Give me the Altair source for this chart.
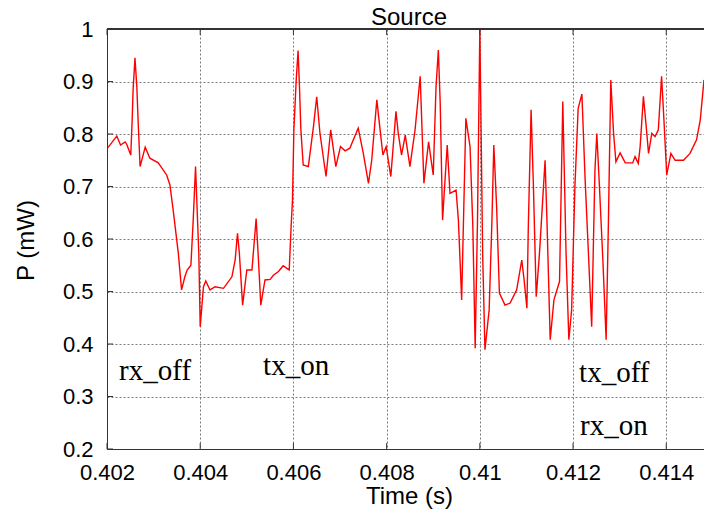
import altair as alt
import pandas as pd

# Time samples (s) and received power (mW) of the source trace
time_s = [
    0.40201, 0.40221, 0.40229, 0.40239, 0.40242, 0.40251, 0.40254, 0.40256, 0.40260, 0.40264,
    0.40267, 0.40271, 0.40282, 0.40292, 0.40310, 0.40328, 0.40335, 0.40342, 0.40353, 0.40360,
    0.40367, 0.40372, 0.40380, 0.40385, 0.40390, 0.40394, 0.40397, 0.40400, 0.40407, 0.40412,
    0.40421, 0.40432, 0.40450, 0.40468, 0.40475, 0.40480, 0.40484, 0.40491, 0.40500, 0.40511,
    0.40520, 0.40525, 0.40530, 0.40539, 0.40550, 0.40557, 0.40568, 0.40578, 0.40586, 0.40591,
    0.40595, 0.40598, 0.40601, 0.40606, 0.40610, 0.40613, 0.40616, 0.40621, 0.40632, 0.40643,
    0.40650, 0.40657, 0.40670, 0.40680, 0.40691, 0.40701, 0.40711, 0.40721, 0.40739, 0.40750,
    0.40761, 0.40768, 0.40779, 0.40786, 0.40792, 0.40799, 0.40809, 0.40820, 0.40825, 0.40832,
    0.40840, 0.40850, 0.40861, 0.40872, 0.40880, 0.40890, 0.40900, 0.40906, 0.40911, 0.40915,
    0.40920, 0.40930, 0.40936, 0.40949, 0.40954, 0.40961, 0.40970, 0.40979, 0.40985, 0.40990,
    0.40995, 0.41000, 0.41006, 0.41011, 0.41020, 0.41026, 0.41030, 0.41036, 0.41042, 0.41054,
    0.41065, 0.41079, 0.41090, 0.41095, 0.41101, 0.41104, 0.41110, 0.41115, 0.41121, 0.41128,
    0.41140, 0.41144, 0.41151, 0.41159, 0.41171, 0.41178, 0.41185, 0.41191, 0.41197, 0.41204,
    0.41211, 0.41219, 0.41226, 0.41233, 0.41240, 0.41247, 0.41251, 0.41256, 0.41264, 0.41271,
    0.41276, 0.41281, 0.41287, 0.41292, 0.41301, 0.41312, 0.41328, 0.41333, 0.41340, 0.41344,
    0.41351, 0.41357, 0.41362, 0.41369, 0.41376, 0.41383, 0.41390, 0.41395, 0.41401, 0.41410,
    0.41419, 0.41437, 0.41451, 0.41465, 0.41473, 0.41481,
]
power_mw = [
    0.773, 0.796, 0.779, 0.785, 0.781, 0.760, 0.827, 0.884, 0.945, 0.890,
    0.820, 0.738, 0.775, 0.754, 0.745, 0.722, 0.703, 0.655, 0.573, 0.503,
    0.528, 0.541, 0.550, 0.636, 0.738, 0.642, 0.573, 0.433, 0.509, 0.520,
    0.503, 0.509, 0.506, 0.528, 0.560, 0.611, 0.573, 0.474, 0.541, 0.541,
    0.639, 0.560, 0.474, 0.522, 0.523, 0.531, 0.538, 0.549, 0.544, 0.541,
    0.623, 0.674, 0.808, 0.903, 0.959, 0.890, 0.808, 0.741, 0.738, 0.814,
    0.871, 0.801, 0.719, 0.808, 0.738, 0.776, 0.768, 0.773, 0.811, 0.763,
    0.706, 0.750, 0.865, 0.808, 0.760, 0.776, 0.719, 0.843, 0.801, 0.760,
    0.798, 0.738, 0.808, 0.910, 0.706, 0.785, 0.722, 0.890, 0.960, 0.858,
    0.636, 0.779, 0.687, 0.693, 0.636, 0.484, 0.830, 0.776, 0.623, 0.392,
    0.636, 1.000, 0.573, 0.389, 0.465, 0.636, 0.779, 0.662, 0.497, 0.474,
    0.478, 0.503, 0.560, 0.522, 0.468, 0.623, 0.846, 0.700, 0.490, 0.573,
    0.750, 0.636, 0.408, 0.484, 0.519, 0.862, 0.573, 0.408, 0.465, 0.700,
    0.849, 0.876, 0.712, 0.573, 0.433, 0.731, 0.801, 0.712, 0.560, 0.408,
    0.636, 0.903, 0.801, 0.747, 0.764, 0.745, 0.745, 0.757, 0.744, 0.776,
    0.872, 0.814, 0.763, 0.801, 0.795, 0.808, 0.910, 0.827, 0.722, 0.763,
    0.750, 0.750, 0.763, 0.789, 0.827, 0.903,
]

# Event labels placed inside the plot
event_text = ["rx_off", "tx_on", "tx_off", "rx_on"]
event_time = [0.40226, 0.40535, 0.41213, 0.41215]
event_power = [0.331, 0.341, 0.328, 0.227]

x_ticks = [0.402, 0.404, 0.406, 0.408, 0.41, 0.412, 0.414]
y_ticks = [0.2, 0.3, 0.4, 0.5, 0.6, 0.7, 0.8, 0.9, 1.0]

chart_title = ["Source"]

W, H = 597, 420
FONT = "Liberation Sans"

trace = pd.DataFrame({"t": time_s, "p": power_mw})
events = pd.DataFrame({"label": event_text, "t": event_time, "p": event_power})
xt = pd.DataFrame({"t": x_ticks})
yt = pd.DataFrame({"p": y_ticks})
title_df = pd.DataFrame({"text": chart_title})

x_scale = alt.Scale(domain=[0.402, 0.41481], nice=False, zero=False)
y_scale = alt.Scale(domain=[0.2, 1.0], nice=False, zero=False)

common = dict(
    grid=True, ticks=False, labelFlush=False, labelOverlap=False,
    labelFont=FONT, labelFontSize=22, labelColor="#000",
    titleFont=FONT, titleFontSize=24, titleFontWeight="normal", titleColor="#000",
    titleBaseline="alphabetic", titleAnchor="middle",
    domainColor="#333", gridColor="#7a7a7a", gridDash=[2, 2], gridWidth=1,
)
x_axis = alt.Axis(values=x_ticks, format="~g", title="Time (s)", labelPadding=13,
                  titleX=302, titleY=54, **common)
y_axis = alt.Axis(values=y_ticks, format="~g", title="P (mW)", labelPadding=14,
                  titleX=-74, titleY=211, titleAngle=-90, **common)

line = alt.Chart(trace).mark_line(color="#ff0000", strokeWidth=1.4, clip=True).encode(
    x=alt.X("t:Q", scale=x_scale, axis=x_axis),
    y=alt.Y("p:Q", scale=y_scale, axis=y_axis),
)

labels = alt.Chart(events).mark_text(
    font="Liberation Serif", fontSize=29, align="left", baseline="alphabetic", color="#000"
).encode(
    x=alt.X("t:Q", scale=x_scale),
    y=alt.Y("p:Q", scale=y_scale),
    text="label:N",
)

# Chart heading above the frame
heading = alt.Chart(title_df).mark_text(
    font=FONT, fontSize=24, align="center", baseline="alphabetic", color="#000"
).encode(x=alt.value(302), y=alt.value(-4), text="text:N")

# Inward tick marks on the frame
xtick_bottom = alt.Chart(xt).mark_rule(color="#333").encode(
    x=alt.X("t:Q", scale=x_scale), y=alt.value(H), y2=alt.value(H - 6)
)
xtick_top = alt.Chart(xt).mark_rule(color="#333").encode(
    x=alt.X("t:Q", scale=x_scale), y=alt.value(0), y2=alt.value(6)
)
ytick_left = alt.Chart(yt).mark_rule(color="#333").encode(
    y=alt.Y("p:Q", scale=y_scale), x=alt.value(0), x2=alt.value(6)
)
top_border = alt.Chart(xt).mark_rule(color="#333").encode(
    x=alt.value(0), x2=alt.value(W), y=alt.value(0)
)

chart = alt.layer(
    line, labels, heading, xtick_bottom, xtick_top, ytick_left, top_border
).properties(
    width=W, height=H,
    autosize=alt.AutoSizeParams(type="none"),
    padding={"left": 107, "top": 29, "right": 0, "bottom": 61},
).configure_view(stroke=None).configure(background="white")

chart.save("out.html", embed_options={"renderer": "svg", "actions": False})
